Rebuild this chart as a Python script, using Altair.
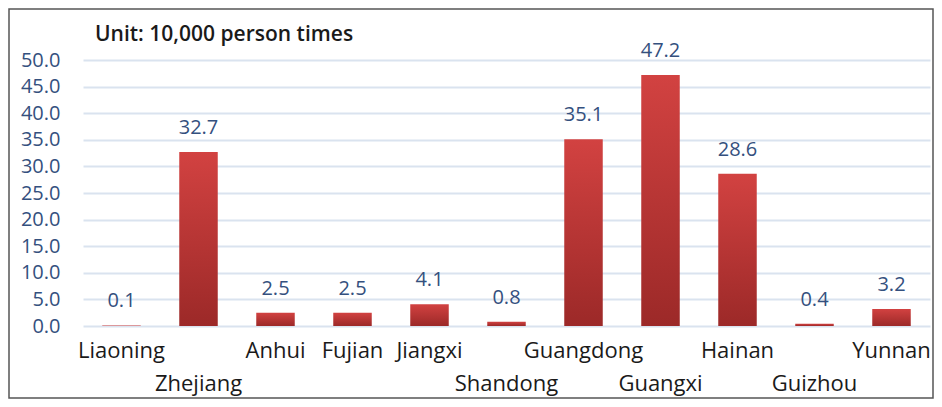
import altair as alt
import pandas as pd

provinces = ["Liaoning", "Zhejiang", "Anhui", "Fujian", "Jiangxi", "Shandong",
             "Guangdong", "Guangxi", "Hainan", "Guizhou", "Yunnan"]
values = [0.1, 32.7, 2.5, 2.5, 4.1, 0.8, 35.1, 47.2, 28.6, 0.4, 3.2]
lower_row = ["Zhejiang", "Shandong", "Guangxi", "Guizhou"]
y_ticks = [0, 5, 10, 15, 20, 25, 30, 35, 40, 45, 50]
title_text = "Unit: 10,000 person times"

df = pd.DataFrame({"province": provinces, "value": values})
title_df = pd.DataFrame({"t": [title_text]})

FONT = "Open Sans"
BLUE = "#34507e"

test = "indexof(" + str(lower_row) + ", datum.value) >= 0"

x_axis = alt.Axis(
    labelAngle=0, domain=False, ticks=False, grid=False,
    labelFont=FONT, labelFontSize=22, labelColor="#1a1a1a",
    labelBaseline="top",
    labelPadding={"condition": {"test": test, "value": 47}, "value": 14},
    labelOverlap=False,
)
y_axis = alt.Axis(
    values=y_ticks, format=".1f", domain=False, ticks=False,
    labelFont=FONT, labelFontSize=20, labelColor=BLUE, labelPadding=23,
    labelOverlap=False, tickCount=11,
    gridColor="#dae3ef", gridWidth=2,
)
x_scale = alt.Scale(paddingInner=0.5, paddingOuter=0.25)
y_scale = alt.Scale(domain=[0, 50], nice=False)

bars = alt.Chart(df).mark_bar(
    color=alt.Gradient(
        gradient="linear",
        stops=[alt.GradientStop(color="#d24241", offset=0),
               alt.GradientStop(color="#9c2928", offset=1)],
        x1=0, x2=0, y1=0, y2=1,
    ),
).encode(
    x=alt.X("province:N", sort=provinces, title=None, scale=x_scale, axis=x_axis),
    y=alt.Y("value:Q", title=None, scale=y_scale, axis=y_axis),
)

labels = alt.Chart(df).mark_text(
    baseline="bottom", dy=-14, font=FONT, fontSize=20, color=BLUE,
).encode(
    x=alt.X("province:N", sort=provinces, title=None, scale=x_scale, axis=x_axis),
    y=alt.Y("value:Q", title=None, scale=y_scale, axis=y_axis),
    text=alt.Text("value:Q", format=".1f"),
)

title = alt.Chart(title_df).mark_text(
    align="left", baseline="middle", font=FONT, fontSize=21, fontWeight=600,
    color="#1a1a1a",
).encode(x=alt.value(12), y=alt.value(-25), text="t:N")

border = alt.Chart(title_df).mark_rect(
    fill=None, stroke="#555555", strokeWidth=1.5,
).encode(
    x=alt.value(-74), x2=alt.value(850), y=alt.value(-51), y2=alt.value(338),
)

chart = alt.layer(bars, labels, title, border).properties(
    width=847, height=266,
    autosize=alt.AutoSizeParams(type="none"),
    padding={"left": 75, "top": 52, "right": 4, "bottom": 73},
).configure_view(stroke=None)

chart.save("out.html", embed_options={"renderer": "svg", "actions": False})
